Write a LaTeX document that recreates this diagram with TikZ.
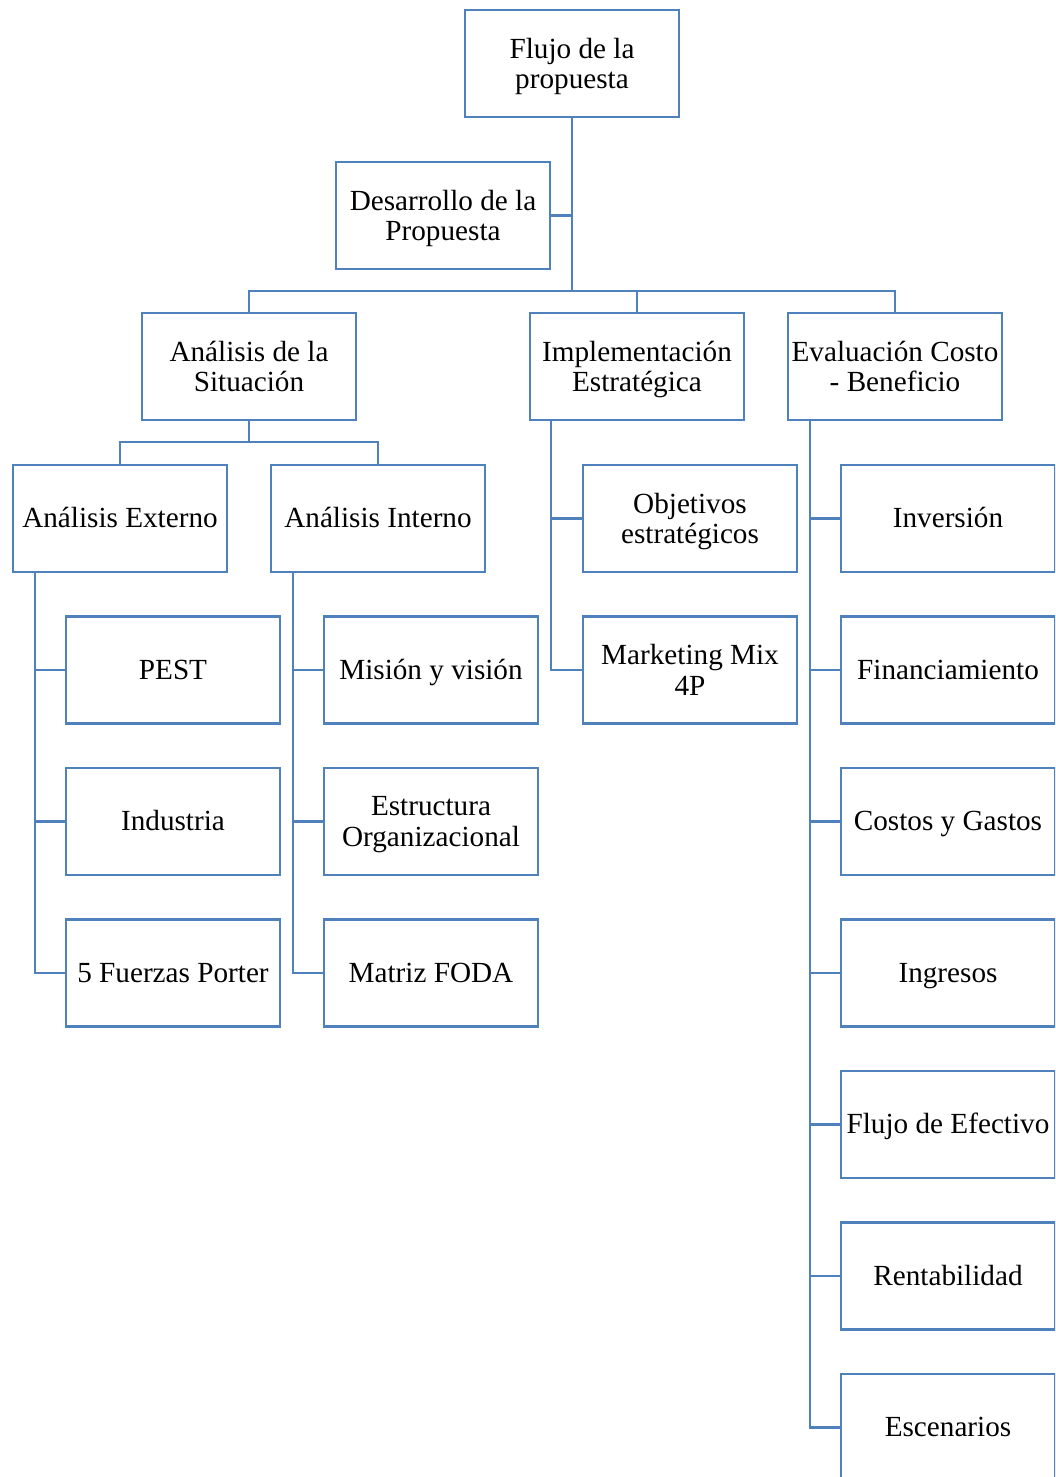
\documentclass[tikz,border=0pt]{standalone}
\usepackage{fontspec}
\setmainfont{Liberation Serif}
\definecolor{boxblue}{RGB}{79,129,189}
\begin{document}
\begin{tikzpicture}[x=0.5pt,y=-0.5pt,
  bx/.style={draw=boxblue,line width=1.4pt,fill=white,minimum width=107pt,minimum height=53.5pt,
    inner sep=0pt,align=center,font=\fontsize{14.6}{15.2}\selectfont,
    execute at begin node={\vphantom{Ág}},execute at end node={\vphantom{Ág}}},
  two/.style={bx,text depth=0pt,execute at end node={}},
  ln/.style={draw=boxblue,line width=1.4pt}]
\useasboundingbox (0,0) rectangle (1055,1477);
\clip (0,0) rectangle (1055,1477);
\fill[white] (0,0) rectangle (1055,1477);
% nodes
\node[two] (top) at (572,63.5) {Flujo de la\\propuesta};
\node[two] (desa) at (443,215.5) {Desarrollo de la\\Propuesta};
\node[two] (sit) at (249,366.5) {Análisis de la\\Situación};
\node[two] (impl) at (637,366.5) {Implementación\\Estratégica};
\node[two] (eval) at (895,366.5) {Evaluación Costo\\- Beneficio};
\node[bx] (ext) at (120,518.5) {Análisis Externo};
\node[bx] (int) at (378,518.5) {Análisis Interno};
\node[bx] (pest) at (173,670) {PEST};
\node[bx] (ind) at (173,821.5) {Industria};
\node[bx] (fza) at (173,973) {5 Fuerzas Porter};
\node[bx] (mis) at (431,670) {Misión y visión};
\node[two] (est) at (431,821.5) {Estructura\\Organizacional};
\node[bx] (foda) at (431,973) {Matriz FODA};
\node[two] (obj) at (690,518.5) {Objetivos\\estratégicos};
\node[two] (mkt) at (690,670) {Marketing Mix\\4P};
\node[bx] (inv) at (948,518.5) {Inversión};
\node[bx] (fin) at (948,670) {Financiamiento};
\node[bx] (cyg) at (948,821.5) {Costos y Gastos};
\node[bx] (ing) at (948,973) {Ingresos};
\node[bx] (flu) at (948,1124.5) {Flujo de Efectivo};
\node[bx] (ren) at (948,1276) {Rentabilidad};
\node[bx] (esc) at (948,1427.5) {Escenarios};
% junctions
\coordinate (j1) at (572,291);
\coordinate (j2) at (249,442);
\coordinate (tx) at (35,0);
\coordinate (ti) at (293,0);
\coordinate (tm) at (551,0);
\coordinate (te) at (810,0);
% connectors
\draw[ln] (top.south) -- (j1);
\draw[ln] (desa.east) -- (desa.east -| j1);
\draw[ln] (sit.north) |- (eval.north |- j1) -- (eval.north);
\draw[ln] (impl.north) -- (impl.north |- j1);
\draw[ln] (sit.south) -- (j2);
\draw[ln] (ext.north) |- (int.north |- j2) -- (int.north);
\draw[ln] (ext.south -| tx) |- (fza.west);
\draw[ln] (pest.west -| tx) -- (pest.west);
\draw[ln] (ind.west -| tx) -- (ind.west);
\draw[ln] (int.south -| ti) |- (foda.west);
\draw[ln] (mis.west -| ti) -- (mis.west);
\draw[ln] (est.west -| ti) -- (est.west);
\draw[ln] (impl.south -| tm) |- (mkt.west);
\draw[ln] (obj.west -| tm) -- (obj.west);
\draw[ln] (eval.south -| te) |- (esc.west);
\draw[ln] (inv.west -| te) -- (inv.west);
\draw[ln] (fin.west -| te) -- (fin.west);
\draw[ln] (cyg.west -| te) -- (cyg.west);
\draw[ln] (ing.west -| te) -- (ing.west);
\draw[ln] (flu.west -| te) -- (flu.west);
\draw[ln] (ren.west -| te) -- (ren.west);
\end{tikzpicture}
\end{document}
